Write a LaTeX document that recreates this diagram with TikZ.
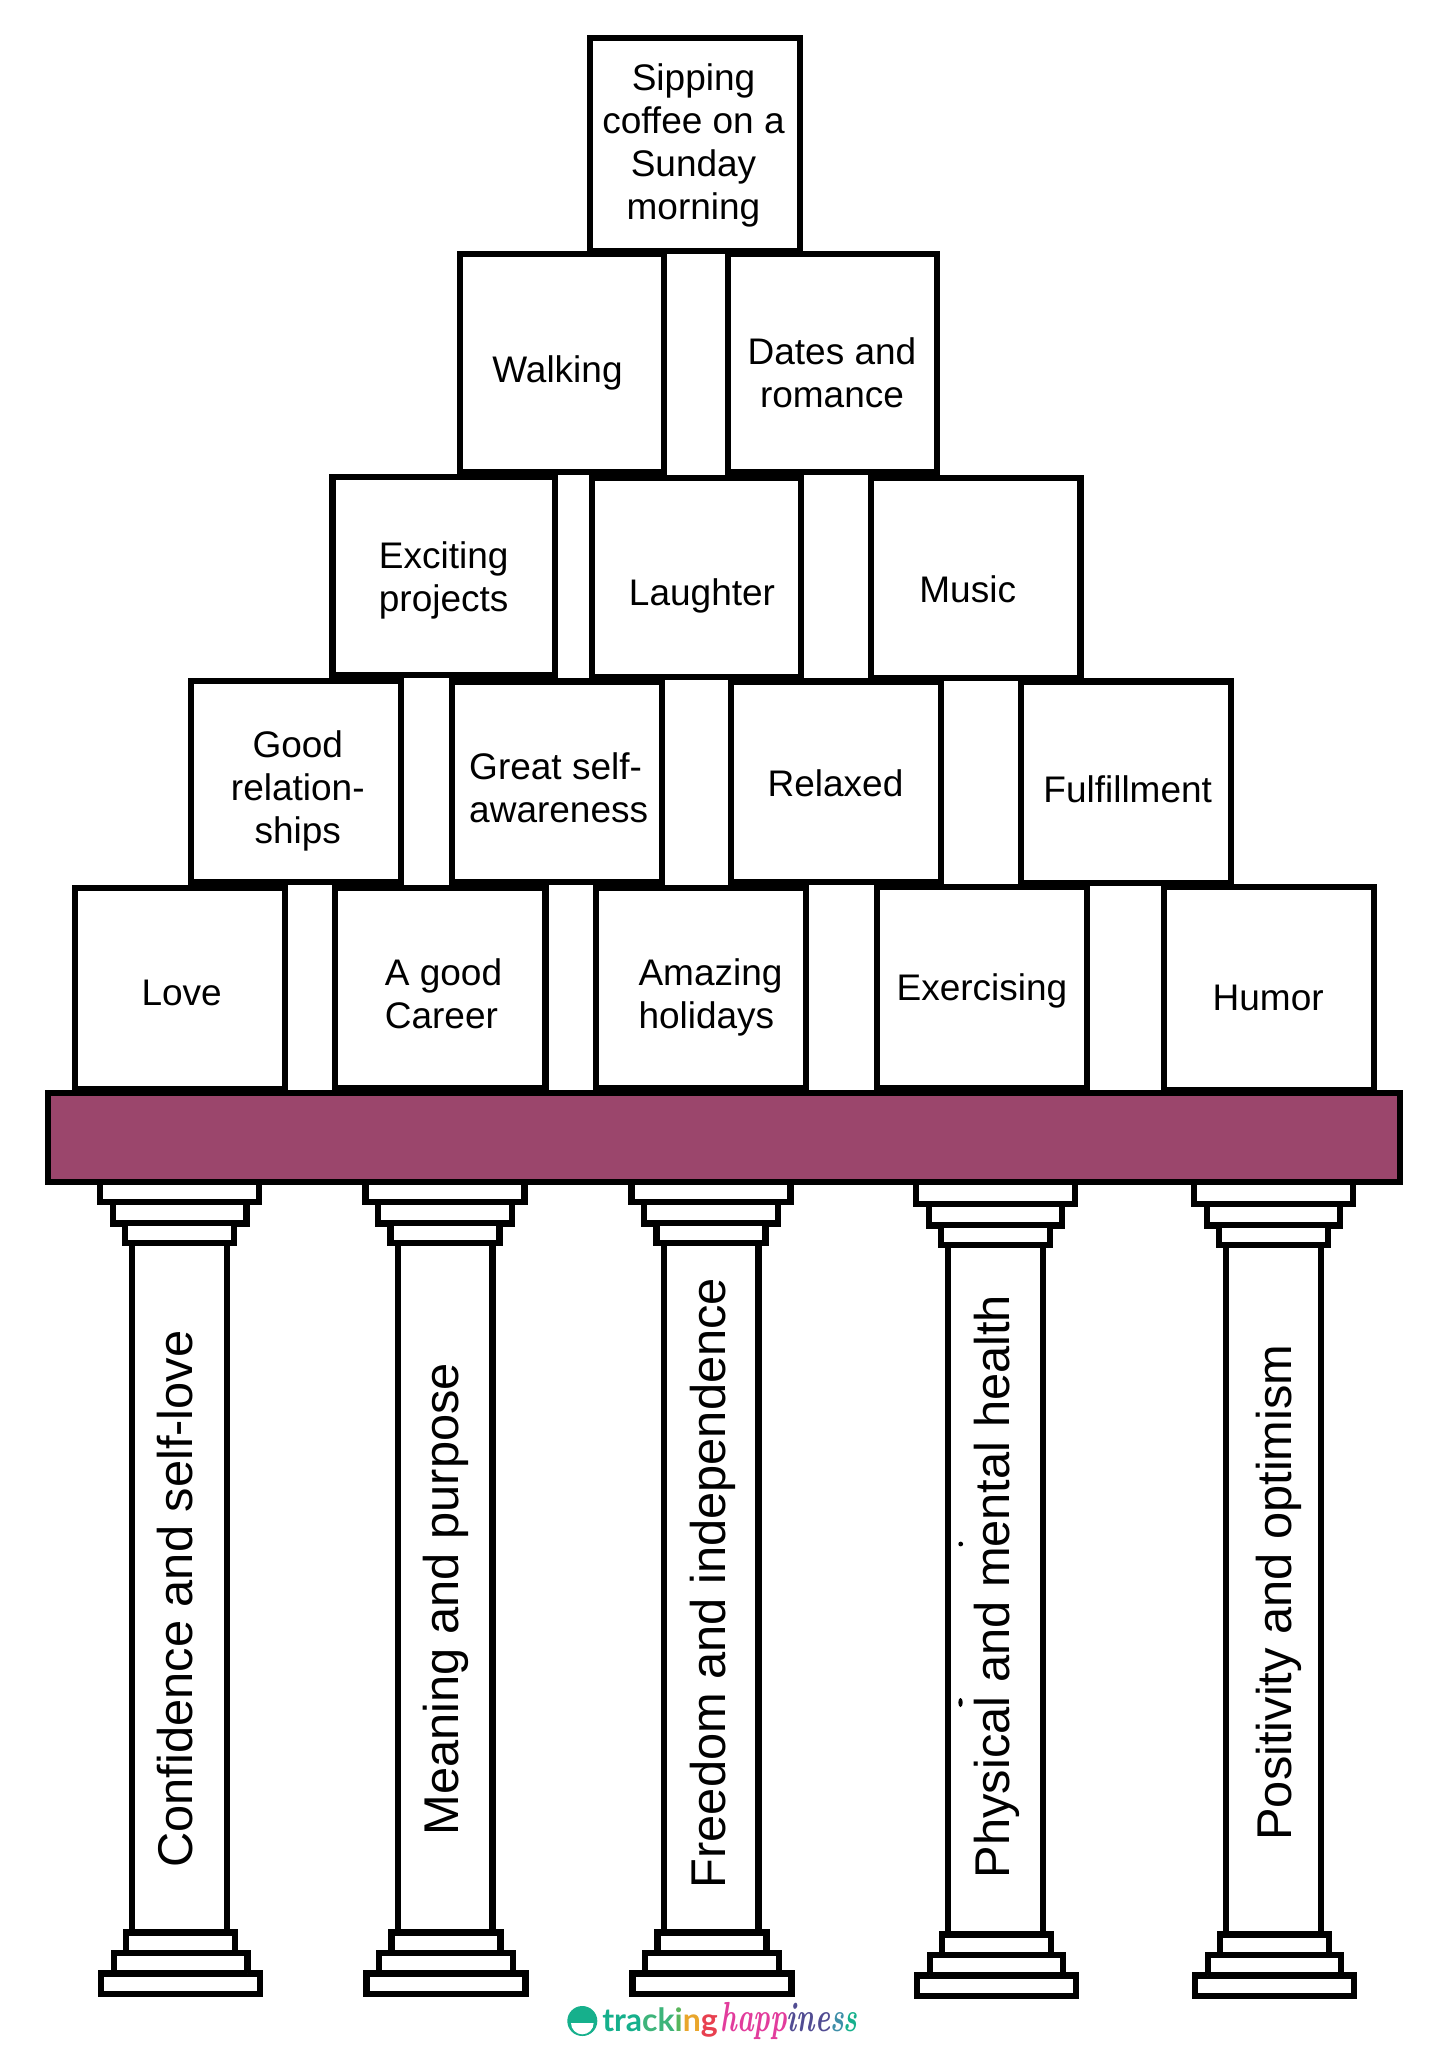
\documentclass[tikz,border=0pt]{standalone}
\usepackage{fontspec}
\setmainfont{Liberation Sans}
\newfontfamily\trackfont{Lato}
\newfontfamily\happyfont{Latin Modern Roman}
\definecolor{beamc}{HTML}{9B466C}
\definecolor{lteal}{HTML}{16B08C}
\definecolor{lgreen}{HTML}{3DB47A}
\definecolor{lgreenb}{HTML}{58B65C}
\definecolor{lorange}{HTML}{E9A62C}
\definecolor{lred}{HTML}{E8404F}
\definecolor{lpink}{HTML}{E23C9C}
\definecolor{lpurple}{HTML}{514C92}
\definecolor{lblue}{HTML}{3F8FA8}
\tikzset{
  stroke/.style={draw=black,line width=6.2pt,fill=white,line join=miter},
  blocktext/.style={font=\fontsize{37}{43}\selectfont,anchor=base,inner sep=0pt,align=center},
  blockleft/.style={blocktext,align=left},
  pillartext/.style={font=\fontsize{48.8}{55}\selectfont,anchor=base,inner sep=0pt,rotate=90},
  logotext/.style={anchor=base,inner sep=0pt},
}
\newcommand{\blk}[4]{\draw[stroke] (#1,#2) rectangle (#3,#4);}
\begin{document}
\begin{tikzpicture}[x=1pt,y=-1pt]
\useasboundingbox (0,0) rectangle (1438,2045);
\fill[white] (0,0) rectangle (1438,2045);
% pillars: centre, vertical offset
\foreach \cx/\dy/\bx/\cy/\lab/\nm in {
  179.7/0/192.5/1599/{Confidence and self-love}/pa,
  445/0/458.5/1599/{Meaning and purpose}/pb,
  711/0/725/1583/{Freedom and independence}/pc,
  995.3/2/1009/1586.5/{Physical and mental health}/pd,
  1273.4/2/1291/1592.5/{Positivity and optimism}/pe}{
  % shaft
  \draw[stroke] (\cx-47.4,1240+\dy) rectangle (\cx+47.4,1934+\dy);
  % capital
  \draw[stroke] (\cx-79.5,1175+\dy) rectangle (\cx+79.5,1202.3+\dy);
  \draw[stroke] (\cx-66.7,1202.3+\dy) rectangle (\cx+66.7,1223.5+\dy);
  \draw[stroke] (\cx-54.5,1223+\dy) rectangle (\cx+54.5,1243.3+\dy);
  % base
  \draw[stroke] (\cx-78.5,1973.5+\dy) rectangle (\cx+80.5,1994+\dy);
  \draw[stroke] (\cx-65.7,1952.7+\dy) rectangle (\cx+67.7,1973.5+\dy);
  \draw[stroke] (\cx-53.5,1932.5+\dy) rectangle (\cx+55.5,1952.7+\dy);
  \draw[stroke] (\cx-65.7,1973.5+\dy) -- (\cx+67.7,1973.5+\dy);
  \node[pillartext] (\nm) at (\bx,\cy) {\lab};
}
% stray marks in the fourth pillar
\fill (960.7,1544) circle[radius=2.4];
\fill (960.5,1702.5) ellipse[x radius=2.2,y radius=4.5];
% beam
\draw[stroke,fill=beamc] (47.7,1093.3) rectangle (1400.3,1181.7);
% row 5
\blk{74.6}{887.7}{285}{1089}
\blk{334.8}{887.7}{545.5}{1088}
\blk{596}{887.7}{806}{1087.7}
\blk{876.7}{886.7}{1087}{1088}
\blk{1164}{886.7}{1374}{1090}
% row 4
\blk{191}{681}{401}{882}
\blk{451.8}{681.5}{662}{881.7}
\blk{731}{681.5}{941}{881.7}
\blk{1020.7}{681.5}{1231}{882.7}
% row 3
\blk{332.4}{477}{555}{675}
\blk{591.6}{477.7}{800.8}{676.7}
\blk{870.7}{477.7}{1080.4}{678}
% row 2
\blk{460}{253.7}{664}{471.7}
\blk{728}{253.7}{937}{471.7}
% row 1
\blk{589.7}{37.7}{800}{251}
% texts
\node[blocktext] (sip) at (693.5,219) {Sipping\\coffee on a\\Sunday\\morning};
\node[blocktext] (walk) at (557.5,382) {Walking};
\node[blocktext] (date) at (832,407.5) {Dates and\\romance};
\node[blockleft] (exci) at (443.7,611) {Exciting\\projects};
\node[blocktext] (laug) at (702,605) {Laughter};
\node[blocktext] (musi) at (967.7,602.3) {Music};
\node[blocktext] (good) at (297.8,843.2) {Good\\relation-\\ships};
\node[blockleft] (grea) at (558.7,822.3) {Great self-\\awareness};
\node[blocktext] (rela) at (835.5,796.7) {Relaxed};
\node[blocktext] (fulf) at (1127.7,802) {Fulfillment};
\node[blocktext] (love) at (181.7,1005.7) {Love};
\node[blockleft] (agoo) at (443.5,1028) {A good\\Career};
\node[blockleft] (amaz) at (710.5,1028.8) {Amazing\\holidays};
\node[blocktext] (exer) at (982,1000.5) {Exercising};
\node[blocktext] (humo) at (1268.2,1010.7) {Humor};
% logo
\fill[lteal] (582.3,2021) circle[radius=15];
\fill[white] (571,2023) arc[start angle=180,end angle=0,radius=11.3] -- cycle;
\node[logotext,font=\trackfont\bfseries\fontsize{32}{36}\selectfont] (track) at (660,2031)
 {\textcolor{lteal}{tra}\textcolor{lgreen}{ck}\textcolor{lgreenb}{i}\textcolor{lorange}{n}\textcolor{lred}{g}};
\node[logotext,font=\happyfont\bfseries\itshape\fontsize{42}{46}\selectfont,xscale=0.67] (happy) at (789,2031)
 {\textcolor{lpink}{happ}\textcolor{lpurple}{ine}\textcolor{lblue}{s}\textcolor{lteal}{s}};
\end{tikzpicture}
\end{document}
